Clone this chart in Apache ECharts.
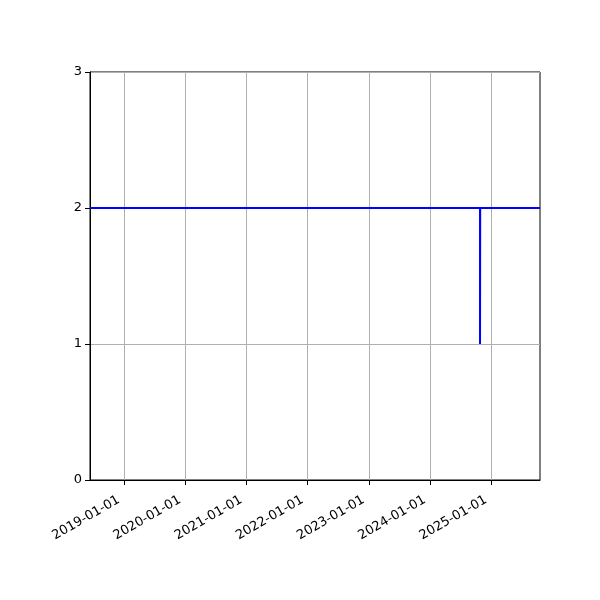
<!DOCTYPE html>
<html lang="en">
<head>
    <meta charset="utf-8" />
    <title>chart</title>
    <script src="https://cdn.jsdelivr.net/npm/echarts@6/dist/echarts.min.js"></script>
    <style>
        html, body { margin: 0; padding: 0; background: #fff; }
        #main { width: 600px; height: 600px; }
    </style>
</head>
<body>
<div id="main"></div>
<script type="text/javascript">
    // 数据
    var dates = ['2018-06-12', '2024-10-26', '2024-10-26', '2024-10-27', '2025-10-19'];
    var values = [2, 2, 1, 2, 2];
    var xTickDates = ['2019-01-01', '2020-01-01', '2021-01-01', '2022-01-01', '2023-01-01', '2024-01-01', '2025-01-01'];
    var yTicks = [0, 1, 2, 3];
    var xMin = '2018-06-12';
    var xMax = '2025-10-19';

    function ts(s) {
        return new Date(s + 'T00:00:00Z').getTime();
    }

    var seriesData = [];
    for (var i = 0; i < dates.length; i++) {
        seriesData.push([ts(dates[i]), values[i]]);
    }
    var tickValues = xTickDates.map(ts);

    var myChart = echarts.init(document.getElementById('main'));
    var option = {
        animation: false,
        textStyle: { fontFamily: 'DejaVu Sans' },
        grid: {
            left: 90, right: 60, top: 72, bottom: 120,
            show: true, borderColor: '#000', borderWidth: 1, backgroundColor: 'transparent'
        },
        xAxis: {
            type: 'value',
            min: ts(xMin),
            max: ts(xMax),
            axisLine: { show: true, lineStyle: { color: '#000', width: 1 } },
            axisTick: { show: true, length: 5, lineStyle: { color: '#000' }, customValues: tickValues },
            axisLabel: {
                customValues: tickValues,
                rotate: 30,
                color: '#000',
                fontSize: 13,
                margin: 16,
                padding: [0, 6, 0, 0],
                formatter: function (v) {
                    return new Date(v).toISOString().slice(0, 10);
                }
            },
            splitLine: { show: true, lineStyle: { color: '#b0b0b0', width: 1 } }
        },
        yAxis: {
            type: 'value',
            min: yTicks[0],
            max: yTicks[yTicks.length - 1],
            interval: 1,
            axisLine: { show: true, lineStyle: { color: '#000', width: 1 } },
            axisTick: { show: true, length: 5, lineStyle: { color: '#000' } },
            axisLabel: { color: '#000', fontSize: 13, margin: 8 },
            splitLine: { show: true, lineStyle: { color: '#b0b0b0', width: 1 } }
        },
        series: [
            {
                type: 'line',
                data: seriesData,
                showSymbol: false,
                lineStyle: { color: '#0000ff', width: 2 },
                itemStyle: { color: '#0000ff' }
            }
        ]
    };
    myChart.setOption(option);
</script>
</body>
</html>
